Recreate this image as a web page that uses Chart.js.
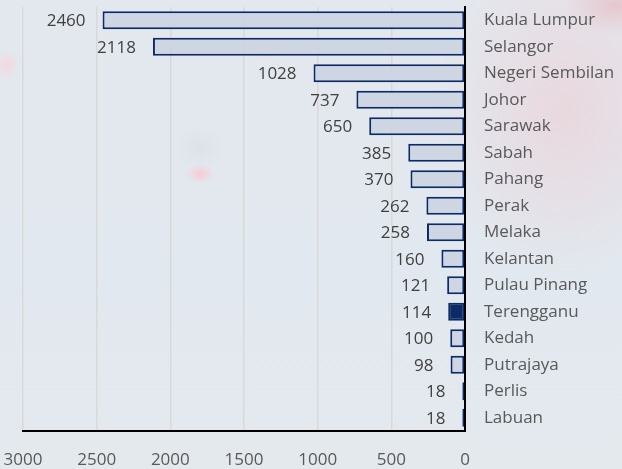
<!DOCTYPE html>
<html>
<head>
<meta charset="utf-8">
<script src="https://cdn.jsdelivr.net/npm/chart.js@4/dist/chart.umd.min.js"></script>
<style>
  html, body { margin: 0; padding: 0; }
  body {
    width: 622px; height: 469px; overflow: hidden;
    background:
      radial-gradient(ellipse 14px 10px at 200px 174px, rgba(255,195,205,0.8), rgba(255,195,205,0) 100%),
      radial-gradient(ellipse 26px 22px at 200px 148px, rgba(212,214,218,0.35), rgba(212,214,218,0) 100%),
      radial-gradient(ellipse 14px 14px at 6px 65px, rgba(255,205,210,0.6), rgba(255,205,210,0) 100%),
      radial-gradient(ellipse 18px 12px at 265px 50px, rgba(255,210,215,0.5), rgba(255,210,215,0) 100%),
      radial-gradient(ellipse 130px 170px at 565px 110px, rgba(238,200,205,0.5), rgba(238,200,205,0) 100%),
      radial-gradient(ellipse 50px 30px at 615px 5px, rgba(230,165,175,0.5), rgba(230,165,175,0) 100%),
      linear-gradient(180deg, #e3e8ee 0%, #e2e8ef 60%, #e4e9ee 100%);
  }
  #wrap { position: absolute; left: 0; top: 0; width: 622px; height: 469px; }
</style>
</head>
<body>
<div id="wrap"><canvas id="c" width="622" height="469"></canvas></div>
<script>
const categories = ["Kuala Lumpur", "Selangor", "Negeri Sembilan", "Johor", "Sarawak", "Sabah", "Pahang", "Perak", "Melaka", "Kelantan", "Pulau Pinang", "Terengganu", "Kedah", "Putrajaya", "Perlis", "Labuan"];
const values = [2460, 2118, 1028, 737, 650, 385, 370, 262, 258, 160, 121, 114, 100, 98, 18, 18];
const xTicks = [0, 500, 1000, 1500, 2000, 2500, 3000];
const highlighted = "Terengganu";

const NAVY = "#0b2a66";
const FILL = "rgba(205,213,225,0.95)";

const barLabels = {
  id: "barLabels",
  afterDatasetsDraw(chart) {
    const ctx = chart.ctx;
    const meta = chart.getDatasetMeta(0);
    ctx.save();
    ctx.font = "17px 'Open Sans'";
    ctx.fillStyle = "#404040";
    ctx.textAlign = "right";
    ctx.textBaseline = "middle";
    meta.data.forEach((bar, i) => {
      const left = Math.min(bar.x, bar.base);
      ctx.fillText(String(values[i]), left - 17, bar.y + 1);
    });
    ctx.restore();
  }
};

new Chart(document.getElementById("c"), {
  type: "bar",
  data: {
    labels: categories,
    datasets: [{
      data: values,
      backgroundColor: categories.map(c => c === highlighted ? NAVY : FILL),
      borderColor: NAVY,
      borderWidth: 2,
      borderSkipped: false,
      barPercentage: 0.68,
      categoryPercentage: 1.0
    }]
  },
  options: {
    indexAxis: "y",
    responsive: false,
    animation: false,
    devicePixelRatio: 1,
    layout: { padding: { top: 7, left: 23, right: 0, bottom: 0 } },
    plugins: { legend: { display: false }, tooltip: { enabled: false } },
    scales: {
      x: {
        min: 0, max: 3000, reverse: true,
        afterBuildTicks: s => { s.ticks = xTicks.map(v => ({ value: v })); },
        afterFit: s => { s.height = 38; s.paddingLeft = 0; s.paddingRight = 0; },
        grid: { color: "#d9d9d9", lineWidth: 1.5, drawTicks: false },
        border: { display: true, color: "#000000", width: 2 },
        ticks: { color: "#595959", font: { family: "'Open Sans'", size: 17 }, padding: 19, maxRotation: 0,
                 callback: v => String(v) }
      },
      y: {
        position: "right",
        afterFit: s => { s.width = 157; s.paddingTop = 0; s.paddingBottom = 0; },
        grid: { display: false, drawTicks: false },
        border: { display: true, color: "#000000", width: 2 },
        ticks: { color: "#595959", font: { family: "'Open Sans'", size: 17 }, padding: 19, autoSkip: false }
      }
    }
  },
  plugins: [barLabels]
});
</script>
</body>
</html>
